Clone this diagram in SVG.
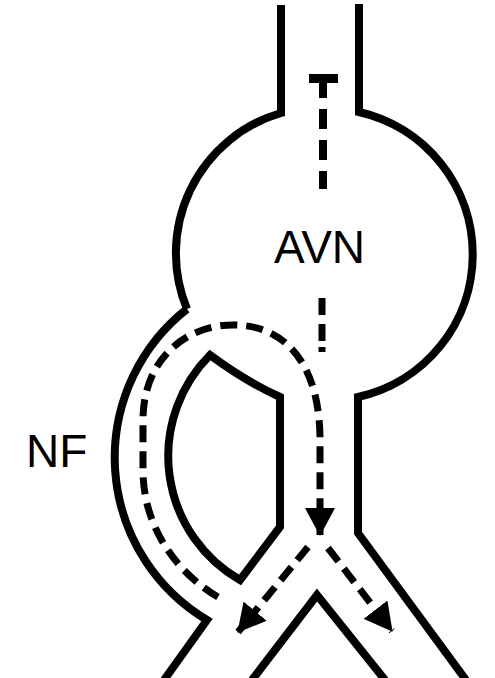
<svg xmlns="http://www.w3.org/2000/svg" width="495" height="678" viewBox="0 0 495 678">
<defs>
<style>
.wall{fill:none;stroke:#000;stroke-width:8;stroke-linejoin:miter;stroke-miterlimit:10}
.flow{fill:none;stroke:#000;stroke-width:7;stroke-dasharray:17 9}
.lbl{font-family:"Liberation Sans",Arial,sans-serif;font-size:46px;fill:#000}
</style>
<marker id="ah" markerUnits="userSpaceOnUse" viewBox="0 0 28 30" markerWidth="28" markerHeight="30" refX="27" refY="15" orient="auto">
<path d="M0,0 L28,15 L0,30 Z" fill="#000"/>
</marker>
</defs>
<rect width="495" height="678" fill="#fff"/>
<g id="avn">
<path class="wall" d="M281,5 V113 A146,146 0 0 0 187,309"/>
<path class="wall" d="M359,4 V112 A146,146 0 0 1 358,397 V533 L466,680"/>
<text class="lbl" x="319.5" y="263" text-anchor="middle">AVN</text>
</g>
<g id="nf">
<path class="wall" d="M187,309 A189,189 0 0 0 207,620 L164,680"/>
<path class="wall" d="M210,355 Q245,381 280,397 L280,527 L240,580 A143,143 0 0 1 210,355 Z"/>
<text class="lbl" x="26" y="467">NF</text>
</g>
<g id="split">
<path class="wall" d="M252,680 L317,595 L385,680"/>
</g>
<g id="connectors">
<path fill="none" stroke="#000" stroke-width="9" d="M309,78.5 H338"/>
<path fill="none" stroke="#000" stroke-width="8" stroke-dasharray="20 11" d="M323,78 V189"/>
<path fill="none" stroke="#000" stroke-width="7" stroke-dasharray="17 9 17 6 5 100" d="M322,298 V352"/>
<path class="flow" marker-end="url(#ah)" d="M218,597 C180,575 143,530 143,470 L143,420 C143,360 185,325 233,325 C290,325 320,370 320,440 L320,535"/>
<path class="flow" marker-end="url(#ah)" d="M308,547 L238,632"/>
<path class="flow" marker-end="url(#ah)" d="M328,548 L392,631"/>
</g>
</svg>
